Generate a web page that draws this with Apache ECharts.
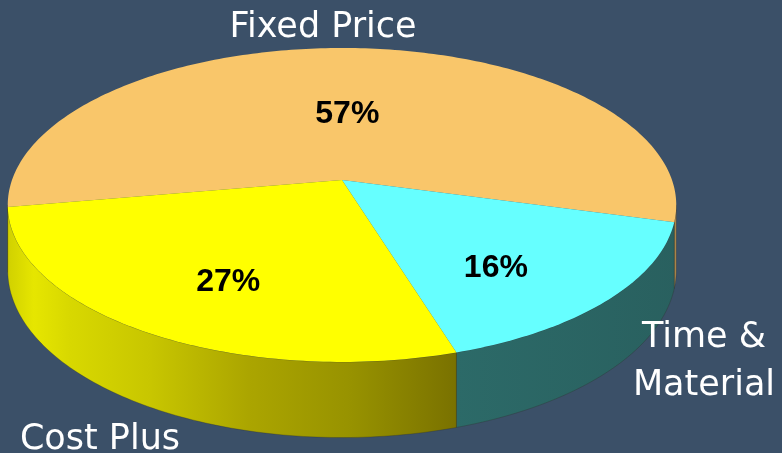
<!DOCTYPE html>
<html>
<head>
<meta charset="utf-8">
<style>
  html, body { margin: 0; padding: 0; background: #3B5068; }
  #chart { width: 782px; height: 453px; }
</style>
<script src="https://cdn.jsdelivr.net/npm/echarts@6/dist/echarts.min.js"></script>
</head>
<body>
<div id="chart"></div>
<script>
// Contract types and their share of the portfolio (percent)
const categories = ['Fixed Price', 'Time &\nMaterial', 'Cost Plus'];
const shares = [57, 16, 27];
const percentLabels = ['57%', '16%', '27%'];

// Slice colours: top face, and the shaded rim (side wall)
const topColors = ['#F9C66A', '#66FFFF', '#FFFF00'];
const sideColors = [
  '#B48C4C',
  { type: 'linear', x: 455, y: 0, x2: 680, y2: 0, global: true,
    colorStops: [{ offset: 0, color: '#2C6A68' }, { offset: 1, color: '#29605F' }] },
  { type: 'linear', x: 7, y: 0, x2: 455, y2: 0, global: true,
    colorStops: [
      { offset: 0.00, color: '#D0D000' },
      { offset: 0.06, color: '#E6E600' },
      { offset: 0.14, color: '#D8D800' },
      { offset: 0.32, color: '#C8C600' },
      { offset: 0.54, color: '#ABA500' },
      { offset: 0.77, color: '#979200' },
      { offset: 1.00, color: '#7A7200' }
    ] }
];

// Perspective view of a flat disc: centre, radii, foreshortening and thickness
const CX = 342, CY = 180, RX = 330, RY = 153, PERSP = 0.159, THICK = 63.6;
const START_DEG = 170.1;           // first slice starts on the left, runs clockwise
const VISIBLE_FROM = Math.asin(PERSP) * 180 / Math.PI;   // right silhouette of the wall
const VISIBLE_TO = 180 - VISIBLE_FROM;                   // left silhouette of the wall

// Text placement: category names outside the disc, nudges for the percentages
const namePositions = [[323, 28], [704, 362], [100, 440]];
const percentNudge = [[-2, -21], [-11, 9], [-9, 10]];

function project(deg, r, drop) {
  const t = deg * Math.PI / 180;
  const x = r * Math.cos(t), y = r * Math.sin(t);
  const w = 1 - PERSP * y;
  return [CX + RX * x / w, CY + (RY * y + drop) / w];
}

function arcPoints(a, b, r, drop) {
  const pts = [];
  const n = Math.max(2, Math.ceil(Math.abs(b - a)));
  for (let s = 0; s <= n; s++) pts.push(project(a + (b - a) * s / n, r, drop));
  return pts;
}

function polygonCentroid(pts) {
  let a = 0, cx = 0, cy = 0;
  for (let i = 0; i < pts.length; i++) {
    const p = pts[i], q = pts[(i + 1) % pts.length];
    const c = p[0] * q[1] - q[0] * p[1];
    a += c; cx += (p[0] + q[0]) * c; cy += (p[1] + q[1]) * c;
  }
  return [cx / (3 * a), cy / (3 * a)];
}

const total = shares.reduce((s, v) => s + v, 0);

function renderItem(params, api) {
  const i = params.dataIndex;
  let start = START_DEG;
  for (let j = 0; j < i; j++) start += shares[j] / total * 360;
  const end = start + api.value(0) / total * 360;
  const children = [];

  // side wall: the parts of this slice's arc that face the viewer
  const ranges = [];
  for (const off of [-360, 0, 360]) {
    const a = Math.max(start, VISIBLE_FROM + off), b = Math.min(end, VISIBLE_TO + off);
    if (b > a) ranges.push([a, b]);
  }
  ranges.forEach(([a, b]) => {
    const top = arcPoints(a, b, 1, 0);
    const bottom = arcPoints(a, b, 1, THICK).reverse();
    children.push({
      type: 'polygon', z2: 1,
      shape: { points: top.concat(bottom) },
      style: { fill: sideColors[i], stroke: 'rgba(40,40,30,0.35)', lineWidth: 0.8 }
    });
  });

  // top face
  const rim = arcPoints(start, end, 1, 0);
  const face = [[CX, CY]].concat(rim);
  children.push({
    type: 'polygon', z2: 2,
    shape: { points: face },
    style: { fill: topColors[i] }
  });

  // percentage on the face
  const c = polygonCentroid(face);
  const nd = percentNudge[i];
  children.push({
    type: 'text', z2: 5, x: c[0] + nd[0], y: c[1] + nd[1],
    style: {
      text: percentLabels[i], fill: '#000',
      font: 'bold 32px "Liberation Sans", Arial, sans-serif',
      align: 'center', verticalAlign: 'middle'
    }
  });

  // category name outside the disc
  const np = namePositions[i];
  children.push({
    type: 'text', z2: 5, x: np[0], y: np[1],
    style: {
      text: categories[i], fill: '#FFFFFF',
      font: '35px "DejaVu Sans", Verdana, sans-serif', lineHeight: 48,
      align: 'center', verticalAlign: 'middle'
    }
  });

  return { type: 'group', children };
}

const chart = echarts.init(document.getElementById('chart'), null, { renderer: 'canvas' });
chart.setOption({
  backgroundColor: '#3B5068',
  animation: false,
  series: [{
    type: 'custom',
    coordinateSystem: 'none',
    renderItem,
    data: shares.map((v, i) => ({ value: v, name: categories[i] }))
  }]
});
</script>
</body>
</html>
